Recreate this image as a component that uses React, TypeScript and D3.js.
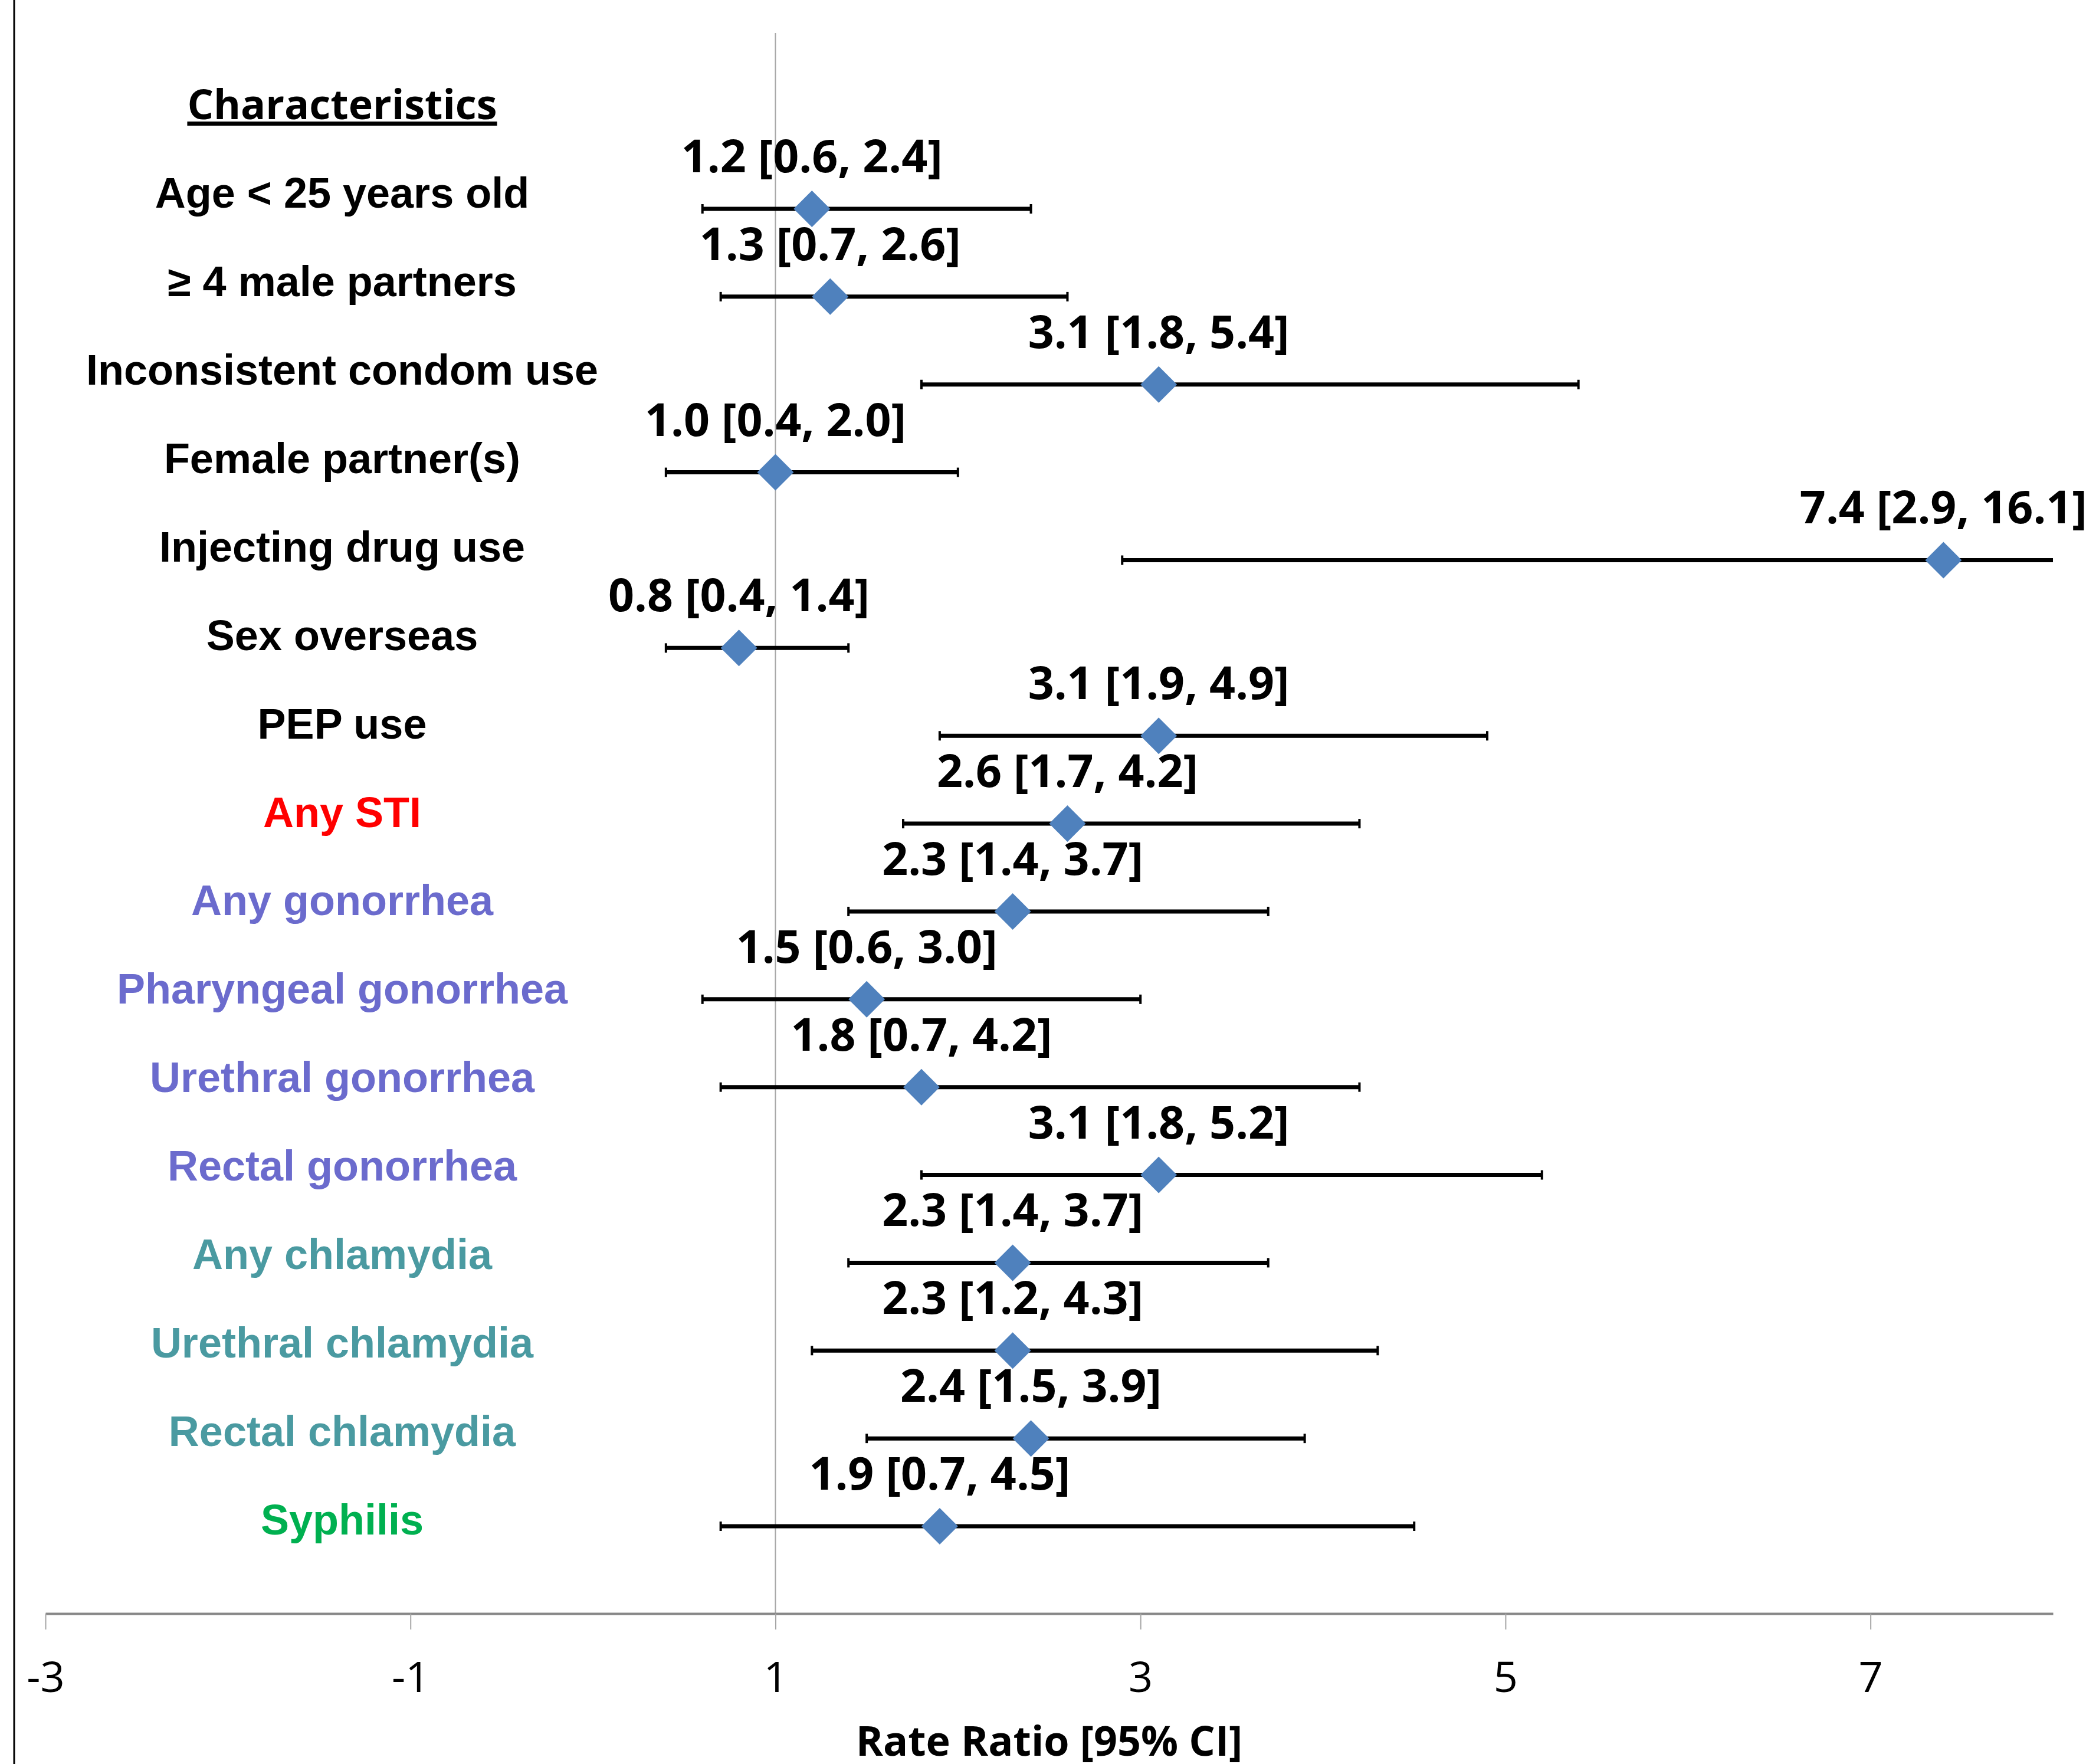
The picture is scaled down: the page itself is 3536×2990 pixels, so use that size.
import React, { useEffect, useRef } from "react";
import * as d3 from "d3";

// rows of the forest plot, top to bottom
const categories = [
  "Age < 25 years old",
  "\u2265 4 male partners",
  "Inconsistent condom use",
  "Female partner(s)",
  "Injecting drug use",
  "Sex overseas",
  "PEP use",
  "Any STI",
  "Any gonorrhea",
  "Pharyngeal gonorrhea",
  "Urethral gonorrhea",
  "Rectal gonorrhea",
  "Any chlamydia",
  "Urethral chlamydia",
  "Rectal chlamydia",
  "Syphilis",
];
const rateRatio = [1.2, 1.3, 3.1, 1.0, 7.4, 0.8, 3.1, 2.6, 2.3, 1.5, 1.8, 3.1, 2.3, 2.3, 2.4, 1.9];
const ciLower = [0.6, 0.7, 1.8, 0.4, 2.9, 0.4, 1.9, 1.7, 1.4, 0.6, 0.7, 1.8, 1.4, 1.2, 1.5, 0.7];
const ciUpper = [2.4, 2.6, 5.4, 2.0, 16.1, 1.4, 4.9, 4.2, 3.7, 3.0, 4.2, 5.2, 3.7, 4.3, 3.9, 4.5];
const groups = ["risk", "risk", "risk", "risk", "risk", "risk", "risk", "sti", "gon", "gon", "gon", "gon", "chl", "chl", "chl", "syph"];
const tickValues = [-3, -1, 1, 3, 5, 7];

const groupColor = {
  risk: "#000000",
  sti: "#ff0000",
  gon: "#6b6bcd",
  chl: "#4a9aa1",
  syph: "#00b050",
};

const W = 3536;
const H = 2990;

const App = () => {
  const ref = useRef(null);

  useEffect(() => {
    const svg = d3.select(ref.current);
    svg.selectAll("*").remove();

    const rows = categories.map((c, i) => ({
      cat: c,
      rr: rateRatio[i],
      lo: ciLower[i],
      hi: ciUpper[i],
      group: groups[i],
    }));

    const x = d3.scaleLinear().domain([-3, 8]).range([77, 3480]);
    const y = d3.scalePoint().domain(categories).range([354, 2587]);
    // the label column sits on a slightly wider grid than the bars
    const yLabel = d3.scalePoint().domain(categories).range([352, 2601]);
    const axisY = 2735;
    const [xMin, xMax] = x.domain();

    // left frame line
    svg.append("line")
      .attr("x1", 24).attr("x2", 24)
      .attr("y1", 0).attr("y2", H)
      .attr("stroke", "#000").attr("stroke-width", 3);

    // reference line at rate ratio = 1
    svg.append("line")
      .attr("x1", x(1)).attr("x2", x(1))
      .attr("y1", 56).attr("y2", axisY)
      .attr("stroke", "#a6a6a6").attr("stroke-width", 2);

    // x axis
    const axis = svg.append("g")
      .attr("transform", `translate(0, ${axisY})`)
      .call(d3.axisBottom(x).tickValues(tickValues).tickSize(27).tickSizeOuter(0).tickPadding(55).tickFormat(d3.format("d")));
    axis.select(".domain").attr("stroke", "#878787").attr("stroke-width", 4);
    axis.selectAll(".tick line").attr("stroke", "#a6a6a6").attr("stroke-width", 2);
    axis.selectAll(".tick text")
      .attr("font-family", "'Open Sans', sans-serif")
      .attr("font-size", 72)
      .attr("fill", "#000")
      .text((d) => (d < 0 ? "-" + Math.abs(d) : String(d)));

    svg.append("text")
      .attr("x", (x(xMin) + x(xMax)) / 2)
      .attr("y", 2976)
      .attr("text-anchor", "middle")
      .attr("font-family", "'Open Sans', sans-serif")
      .attr("font-weight", 700)
      .attr("font-size", 70)
      .text("Rate Ratio [95% CI]");

    // header of the label column
    svg.append("text")
      .attr("x", 580)
      .attr("y", 202)
      .attr("text-anchor", "middle")
      .attr("font-family", "'Open Sans', sans-serif")
      .attr("font-weight", 700)
      .attr("font-size", 70)
      .attr("text-decoration", "underline")
      .text("Characteristics");

    // category labels
    svg.append("g").selectAll("text")
      .data(rows)
      .enter().append("text")
      .attr("x", 580)
      .attr("y", (d) => yLabel(d.cat))
      .attr("text-anchor", "middle")
      .attr("font-family", "'Liberation Sans', Arial, sans-serif")
      .attr("font-weight", 700)
      .attr("font-size", 72)
      .attr("fill", (d) => groupColor[d.group])
      .text((d) => d.cat);

    const marks = svg.append("g");

    // confidence interval lines, clipped at the axis end
    marks.selectAll(".ci")
      .data(rows)
      .enter().append("line")
      .attr("class", "ci")
      .attr("x1", (d) => x(Math.max(d.lo, xMin)))
      .attr("x2", (d) => x(Math.min(d.hi, xMax)))
      .attr("y1", (d) => y(d.cat))
      .attr("y2", (d) => y(d.cat))
      .attr("stroke", "#000")
      .attr("stroke-width", 7);

    // end caps
    const caps = [];
    rows.forEach((d) => {
      if (d.lo >= xMin) caps.push({ v: d.lo, cat: d.cat });
      if (d.hi <= xMax) caps.push({ v: d.hi, cat: d.cat });
    });
    marks.selectAll(".cap")
      .data(caps)
      .enter().append("line")
      .attr("class", "cap")
      .attr("x1", (d) => x(d.v))
      .attr("x2", (d) => x(d.v))
      .attr("y1", (d) => y(d.cat) - 8)
      .attr("y2", (d) => y(d.cat) + 8)
      .attr("stroke", "#000")
      .attr("stroke-width", 4);

    // diamonds
    const diamond = (cx, cy) => `M${cx},${cy - 31}L${cx + 31},${cy}L${cx},${cy + 31}L${cx - 31},${cy}Z`;
    marks.selectAll(".pt")
      .data(rows)
      .enter().append("path")
      .attr("class", "pt")
      .attr("d", (d) => diamond(x(d.rr), y(d.cat)))
      .attr("fill", "#4f81bd");

    // value labels above each point
    marks.selectAll(".val")
      .data(rows)
      .enter().append("text")
      .attr("class", "val")
      .attr("x", (d) => x(d.rr))
      .attr("y", (d) => y(d.cat) - 62)
      .attr("text-anchor", "middle")
      .attr("font-family", "'Open Sans', sans-serif")
      .attr("font-weight", 700)
      .attr("font-size", 77)
      .attr("fill", "#000")
      .text((d) => `${d.rr.toFixed(1)} [${d.lo.toFixed(1)}, ${d.hi.toFixed(1)}]`);
  }, []);

  return (
    <svg
      ref={ref}
      width={W}
      height={H}
      style={{ position: "absolute", left: 0, top: 0, background: "#fff" }}
    ></svg>
  );
};

export default App;
